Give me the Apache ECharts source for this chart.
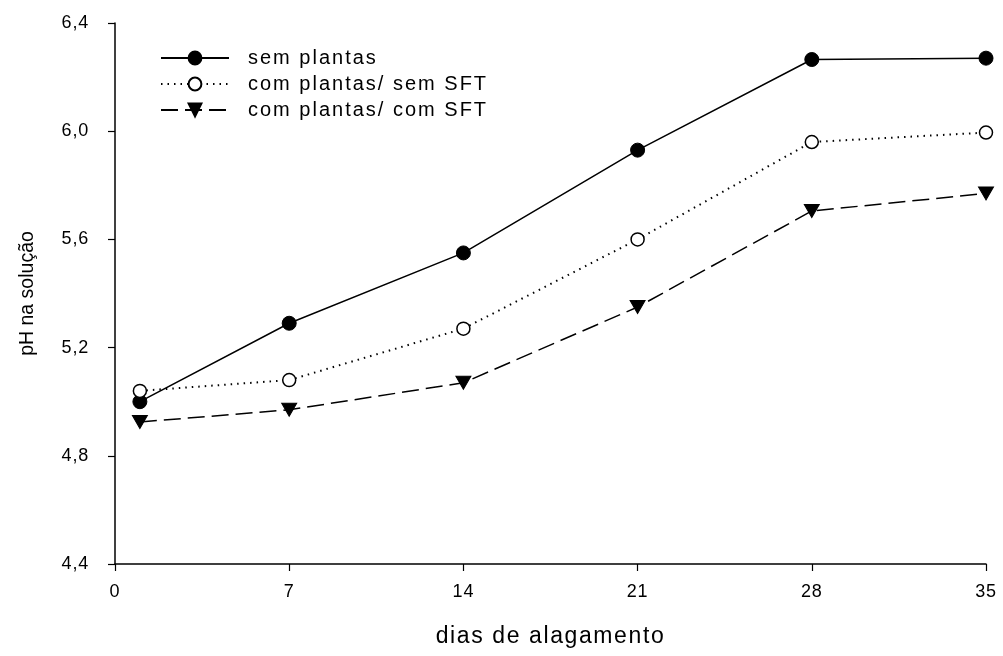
<!DOCTYPE html>
<html>
<head>
<meta charset="utf-8">
<script src="https://cdn.jsdelivr.net/npm/echarts@6/dist/echarts.min.js"></script>
<style>
html,body{margin:0;padding:0;background:#fff;}
#chart{width:1003px;height:656px;}
</style>
</head>
<body>
<div id="chart"></div>
<script>
const days = [1, 7, 14, 21, 28, 35];
const semPlantas = [5.00, 5.29, 5.55, 5.93, 6.265, 6.27];
const comSemSFT = [5.04, 5.08, 5.27, 5.60, 5.96, 5.995];
const comComSFT = [4.925, 4.97, 5.07, 5.35, 5.705, 5.77];
const seriesNames = ['sem plantas', 'com plantas/ sem SFT', 'com plantas/ com SFT'];
const xTicks = [0, 7, 14, 21, 28, 35];
const xTitle = 'dias de alagamento';
const yTitle = 'pH na solução';

const FONT = 'Liberation Sans, Arial, sans-serif';
const pair = arr => days.map((d, i) => [d, arr[i]]);

// Wider character spacing, as in the original export
(function () {
  const proto = CanvasRenderingContext2D.prototype;
  if (!('letterSpacing' in proto)) return;
  const spacingFor = t => {
    if (seriesNames.includes(t)) return '2px';
    if (t === xTitle) return '1.6px';
    if (/^[0-9,]+$/.test(t)) return '0.8px';
    return '0px';
  };
  const origFill = proto.fillText;
  proto.fillText = function (t, x, y, w) {
    const prev = this.letterSpacing;
    this.letterSpacing = spacingFor(String(t));
    if (w === undefined) origFill.call(this, t, x, y); else origFill.call(this, t, x, y, w);
    this.letterSpacing = prev;
  };
})();

const chart = echarts.init(document.getElementById('chart'), null, {renderer: 'canvas'});
chart.setOption({
  animation: false,
  backgroundColor: '#fff',
  grid: {left: 115, right: 17, top: 23, bottom: 92, containLabel: false},
  legend: {
    orient: 'vertical',
    left: 155,
    top: 43,
    itemWidth: 68,
    itemHeight: 16,
    itemGap: 6,
    textStyle: {fontFamily: FONT, fontSize: 20, color: '#000', padding: [0, 0, 0, 14]},
    data: seriesNames
  },
  xAxis: {
    type: 'value',
    min: 0, max: 35, interval: 7,
    axisLine: {lineStyle: {color: '#000', width: 1.5}},
    axisTick: {inside: false, length: 7, lineStyle: {color: '#000', width: 1.2}},
    splitLine: {show: false},
    axisLabel: {
      fontFamily: FONT, fontSize: 18, color: '#000', margin: 19,
      formatter: v => xTicks.includes(v) ? String(v) : ''
    },
    name: xTitle,
    nameLocation: 'middle',
    nameGap: 61,
    nameTextStyle: {fontFamily: FONT, fontSize: 23, color: '#000'}
  },
  yAxis: {
    type: 'value',
    min: 4.4, max: 6.4, interval: 0.4,
    axisLine: {show: true, lineStyle: {color: '#000', width: 1.5}},
    axisTick: {show: true, inside: false, length: 7, lineStyle: {color: '#000', width: 1.2}},
    splitLine: {show: false},
    axisLabel: {
      fontFamily: FONT, fontSize: 18, color: '#000', margin: 26,
      formatter: v => v.toFixed(1).replace('.', ',')
    },
    name: yTitle,
    nameLocation: 'middle',
    nameGap: 77,
    nameTextStyle: {fontFamily: FONT, fontSize: 19.5, color: '#000'}
  },
  series: [
    {
      name: seriesNames[0], type: 'line', data: pair(semPlantas),
      symbol: 'circle', symbolSize: 14,
      lineStyle: {color: '#000', width: 1.5, type: 'solid'},
      itemStyle: {color: '#000', borderColor: '#000', borderWidth: 1}
    },
    {
      name: seriesNames[1], type: 'line', data: pair(comSemSFT),
      symbol: 'circle', symbolSize: 13,
      lineStyle: {color: '#000', width: 2, type: [1.5, 5]},
      itemStyle: {color: '#fff', borderColor: '#000', borderWidth: 1.5}
    },
    {
      name: seriesNames[2], type: 'line', data: pair(comComSFT),
      symbol: 'triangle', symbolSize: [15, 13], symbolRotate: 180,
      lineStyle: {color: '#000', width: 1.5, type: [17, 7]},
      itemStyle: {color: '#000', borderColor: '#000', borderWidth: 1}
    }
  ]
});
</script>
</body>
</html>
